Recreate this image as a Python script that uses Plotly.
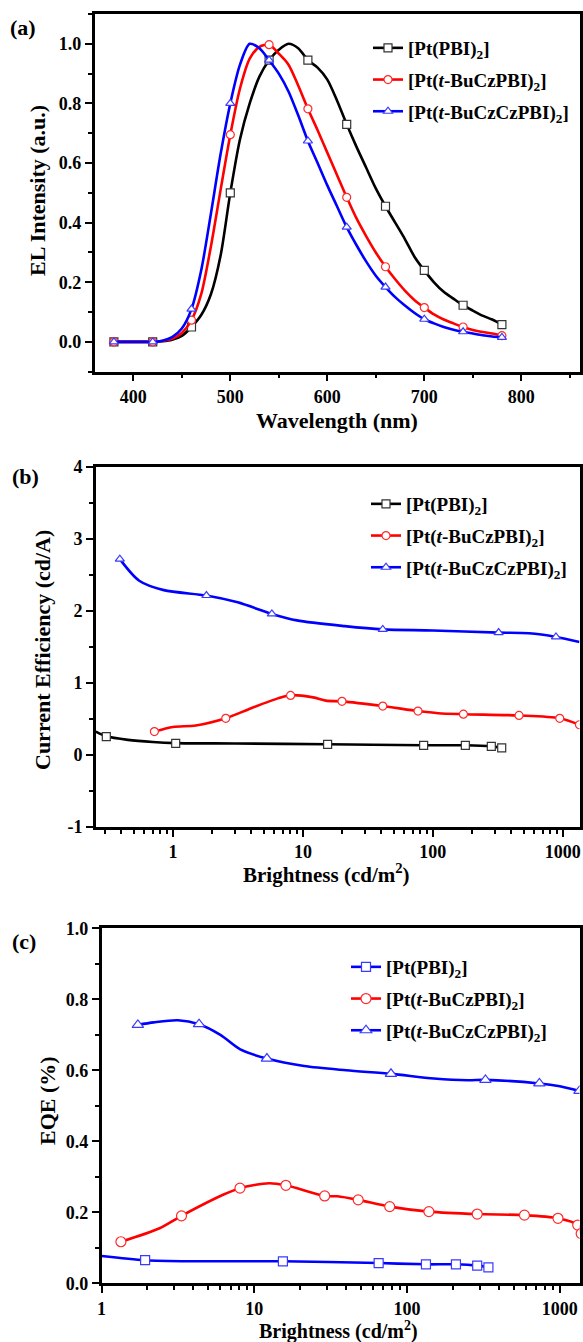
import plotly.graph_objects as go

# ---------------- Panel (a): EL spectra ----------------
wl_line = [380, 390, 400, 410, 420, 430, 440, 450, 460, 470, 480, 490, 500, 510, 520, 530, 540,
           550, 560, 570, 580, 590, 600, 610, 620, 630, 640, 650, 660, 670, 680, 690, 700, 710,
           720, 730, 740, 750, 760, 770, 780]
el_pbi = [0, 0, 0, 0, 0, 0.002, 0.007, 0.02, 0.05, 0.09, 0.16, 0.29, 0.50, 0.68, 0.80, 0.89, 0.945,
          0.98, 1.0, 0.985, 0.945, 0.92, 0.88, 0.81, 0.73, 0.655, 0.585, 0.515, 0.455, 0.40, 0.345,
          0.285, 0.24, 0.20, 0.168, 0.145, 0.123, 0.105, 0.088, 0.075, 0.058]
el_bucz = [0, 0, 0, 0, 0, 0.003, 0.01, 0.03, 0.073, 0.16, 0.32, 0.51, 0.695, 0.85, 0.95, 0.99, 0.997,
           0.967, 0.93, 0.86, 0.782, 0.71, 0.635, 0.56, 0.485, 0.415, 0.355, 0.30, 0.252, 0.21, 0.172,
           0.14, 0.115, 0.092, 0.075, 0.062, 0.05, 0.04, 0.033, 0.028, 0.021]
el_buczcz = [0, 0, 0, 0, 0, 0.004, 0.016, 0.045, 0.11, 0.24, 0.43, 0.63, 0.80, 0.93, 1.0, 0.985, 0.945,
             0.90, 0.84, 0.76, 0.674, 0.60, 0.525, 0.455, 0.385, 0.325, 0.27, 0.222, 0.184, 0.15, 0.122,
             0.097, 0.076, 0.062, 0.05, 0.041, 0.034, 0.028, 0.022, 0.018, 0.015]
wl_mark = [380, 420, 460, 500, 540, 580, 620, 660, 700, 740, 780]
el_pbi_mark = [0, 0, 0.05, 0.50, 0.945, 0.945, 0.73, 0.455, 0.24, 0.123, 0.058]
el_bucz_mark = [0, 0, 0.073, 0.695, 0.997, 0.782, 0.485, 0.252, 0.115, 0.05, 0.021]
el_buczcz_mark = [0, 0, 0.11, 0.80, 0.945, 0.674, 0.385, 0.184, 0.076, 0.034, 0.015]

# ---------------- Panel (b): current efficiency ----------------
ce_pbi_b = [0.255, 0.307, 0.45, 0.7, 1.05, 3, 15.5, 85, 178, 282, 339]
ce_pbi = [0.325, 0.26, 0.21, 0.18, 0.165, 0.16, 0.15, 0.135, 0.135, 0.12, 0.10]
ce_pbi_mb = [0.307, 1.05, 15.5, 85, 178, 282, 339]
ce_pbi_m = [0.255, 0.162, 0.148, 0.134, 0.134, 0.12, 0.10]

ce_bucz_b = [0.72, 1.0, 1.5, 2.55, 4.0, 6.5, 8.04, 12, 15, 20, 41.2, 76.9, 110, 172, 461, 948, 1345]
ce_bucz = [0.325, 0.39, 0.41, 0.51, 0.65, 0.79, 0.83, 0.80, 0.755, 0.745, 0.68, 0.61, 0.58, 0.567,
           0.549, 0.51, 0.42]
ce_bucz_mb = [0.72, 2.55, 8.04, 20, 41.2, 76.9, 172, 461, 948, 1345]
ce_bucz_m = [0.325, 0.51, 0.828, 0.745, 0.68, 0.61, 0.567, 0.549, 0.51, 0.42]

ce_buczcz_b = [0.39, 0.55, 0.85, 1.81, 3.15, 5.77, 9, 21, 41.2, 100, 321, 550, 887, 1345]
ce_buczcz = [2.72, 2.42, 2.29, 2.215, 2.12, 1.96, 1.87, 1.79, 1.745, 1.73, 1.70, 1.69, 1.64, 1.57]
ce_buczcz_mb = [0.39, 1.81, 5.77, 41.2, 321, 887]
ce_buczcz_m = [2.72, 2.215, 1.96, 1.745, 1.70, 1.64]

# ---------------- Panel (c): EQE ----------------
eqe_pbi_b = [1.0, 1.93, 4, 15.4, 65.2, 133, 209, 288, 341]
eqe_pbi = [0.077, 0.065, 0.062, 0.062, 0.057, 0.0535, 0.0535, 0.0497, 0.045]
eqe_pbi_mb = [1.93, 15.4, 65.2, 133, 209, 288, 341]
eqe_pbi_m = [0.065, 0.062, 0.057, 0.0535, 0.0535, 0.0497, 0.045]

eqe_bucz_b = [1.34, 2.4, 3.34, 6.3, 8.06, 12.5, 16.1, 28.9, 35, 47.9, 77, 139, 288, 587, 973, 1310, 1380]
eqe_bucz = [0.117, 0.155, 0.19, 0.25, 0.268, 0.282, 0.276, 0.246, 0.245, 0.235, 0.216, 0.202, 0.195,
            0.192, 0.183, 0.164, 0.14]
eqe_bucz_mb = [1.34, 3.34, 8.06, 16.1, 28.9, 47.9, 77, 139, 288, 587, 973, 1310, 1380]
eqe_bucz_m = [0.117, 0.19, 0.268, 0.276, 0.246, 0.235, 0.216, 0.202, 0.195, 0.192, 0.183, 0.164, 0.14]

eqe_buczcz_b = [1.73, 2.2, 3.16, 4.35, 6.0, 8.1, 12.1, 21.2, 40, 78.5, 150, 250, 326, 735, 1000, 1345]
eqe_buczcz = [0.728, 0.735, 0.741, 0.73, 0.70, 0.659, 0.633, 0.612, 0.60, 0.59, 0.577, 0.572, 0.573,
              0.563, 0.555, 0.542]
eqe_buczcz_mb = [1.73, 4.35, 12.1, 78.5, 326, 735, 1345]
eqe_buczcz_m = [0.728, 0.73, 0.633, 0.59, 0.573, 0.563, 0.542]

names = ["[Pt(PBI)<sub>2</sub>]", "[Pt(<i>t</i>-BuCzPBI)<sub>2</sub>]", "[Pt(<i>t</i>-BuCzCzPBI)<sub>2</sub>]"]
log_tickvals = [1, 10, 100, 1000]
log_ticktext = ["1", "10", "100", "1000"]
ce_tickvals = [-1, 0, 1, 2, 3, 4]
ce_ticktext = ["-1", "0", "1", "2", "3", "4"]

FONT = "Liberation Serif"
BLACK, RED, BLUE = "#000000", "#ff0000", "#0000ff"
EDGE = {BLACK: "#333333", RED: "#ff2a2a", BLUE: "#3a3aff"}
SYMS = ["square", "circle", "triangle-up"]

fig = go.Figure()


def add_series(xl, yl, xm, ym, color, sym, name, xa, ya, leg, group, msize=8):
    mk = dict(symbol=sym, size=msize, color="white", line=dict(color=EDGE[color], width=1.2))
    fig.add_trace(go.Scatter(x=xl, y=yl, mode="lines",
                             line=dict(color=color, width=2.6, shape="spline", smoothing=0.8),
                             xaxis=xa, yaxis=ya, showlegend=False, hoverinfo="skip"))
    fig.add_trace(go.Scatter(x=xm, y=ym, mode="markers", marker=mk,
                             xaxis=xa, yaxis=ya, showlegend=False))
    fig.add_trace(go.Scatter(x=[None], y=[None], mode="lines+markers", name=name,
                             line=dict(color=color, width=2.6), marker=mk,
                             xaxis=xa, yaxis=ya, legend=leg, legendgroup=group, showlegend=True))


# panel a
add_series(wl_line, el_pbi, wl_mark, el_pbi_mark, BLACK, SYMS[0], names[0], "x", "y", "legend", "a1")
add_series(wl_line, el_bucz, wl_mark, el_bucz_mark, RED, SYMS[1], names[1], "x", "y", "legend", "a2")
add_series(wl_line, el_buczcz, wl_mark, el_buczcz_mark, BLUE, SYMS[2], names[2], "x", "y", "legend", "a3")
# panel b
add_series(ce_pbi_b, ce_pbi, ce_pbi_mb, ce_pbi_m, BLACK, SYMS[0], names[0], "x2", "y2", "legend2", "b1")
add_series(ce_bucz_b, ce_bucz, ce_bucz_mb, ce_bucz_m, RED, SYMS[1], names[1], "x2", "y2", "legend2", "b2")
add_series(ce_buczcz_b, ce_buczcz, ce_buczcz_mb, ce_buczcz_m, BLUE, SYMS[2], names[2], "x2", "y2", "legend2", "b3")
# panel c
add_series(eqe_pbi_b, eqe_pbi, eqe_pbi_mb, eqe_pbi_m, BLUE, SYMS[0], names[0], "x3", "y3", "legend3", "c1", 9)
add_series(eqe_bucz_b, eqe_bucz, eqe_bucz_mb, eqe_bucz_m, RED, SYMS[1], names[1], "x3", "y3", "legend3", "c2", 10)
add_series(eqe_buczcz_b, eqe_buczcz, eqe_buczcz_mb, eqe_buczcz_m, BLUE, SYMS[2], names[2], "x3", "y3", "legend3", "c3", 10)

W, H = 583, 1342


def px_x(p):
    return p / W


def px_y(p):
    return 1 - p / H


tickfont = dict(family=FONT, size=18, color="black", weight="bold")
base = dict(showline=True, linecolor="black", linewidth=2.5, mirror=True, ticks="outside", ticklen=7,
            tickwidth=2, tickcolor="black", showgrid=False, zeroline=False, tickfont=tickfont,
            automargin=False,
            minor=dict(ticks="outside", ticklen=4, tickwidth=2, tickcolor="black", showgrid=False))

minor_log = [m * 10 ** e for e in range(-1, 4) for m in range(2, 10)]

fig.update_layout(
    width=W, height=H, margin=dict(l=0, r=0, t=0, b=0, pad=0), plot_bgcolor="white", paper_bgcolor="white",
    xaxis=dict(base, domain=[px_x(94.5), px_x(579.5)], anchor="y", range=[360, 860], dtick=100, tick0=0,
               minor=dict(base["minor"], dtick=50)),
    yaxis=dict(base, domain=[px_y(371.7), px_y(14)], anchor="x", range=[-0.1, 1.1], dtick=0.2, tick0=0,
               tickformat=".1f", minor=dict(base["minor"], dtick=0.1)),
    xaxis2=dict(base, domain=[px_x(95.9), px_x(579.5)], anchor="y2", type="log", range=[-0.593, 3.129],
                tickmode="array", tickvals=log_tickvals, ticktext=log_ticktext,
                minor=dict(base["minor"], tickmode="array", tickvals=minor_log)),
    yaxis2=dict(base, domain=[px_y(827), px_y(467)], anchor="x2", range=[-1, 4], tickmode="array",
                tickvals=ce_tickvals, ticktext=ce_ticktext, minor=dict(base["minor"], dtick=0.5, tick0=0)),
    xaxis3=dict(base, domain=[px_x(101.5), px_x(579.5)], anchor="y3", type="log", range=[0, 3.129],
                tickmode="array", tickvals=log_tickvals, ticktext=log_ticktext,
                minor=dict(base["minor"], tickmode="array", tickvals=minor_log)),
    yaxis3=dict(base, domain=[px_y(1283.3), px_y(928.3)], anchor="x3", range=[0, 1.0], dtick=0.2, tick0=0,
                tickformat=".1f", minor=dict(base["minor"], dtick=0.1)),
)

legfont = dict(family=FONT, size=19, color="black", weight="bold")
legbase = dict(font=legfont, bgcolor="rgba(0,0,0,0)", traceorder="grouped", tracegroupgap=4,
               xanchor="left", yanchor="top", itemwidth=30)
fig.update_layout(
    legend=dict(legbase, x=px_x(368), y=px_y(29)),
    legend2=dict(legbase, x=px_x(366), y=px_y(485)),
    legend3=dict(legbase, x=px_x(346), y=px_y(948)),
)

ann = [
    ("(a)", 23, 27, 0, 22), ("(b)", 25, 476, 0, 22), ("(c)", 24, 942, 0, 22),
    ("EL Intensity (a.u.)", 38, 191, -90, 22),
    ("Wavelength (nm)", 337, 420, 0, 22),
    ("Current Efficiency (cd/A)", 42, 650, -90, 22),
    ("Brightness (cd/m<sup>2</sup>)", 326, 873, 0, 21),
    ("EQE (%)", 47, 1101, -90, 22),
    ("Brightness (cd/m<sup>2</sup>)", 338, 1330, 0, 20),
]
for text, x, y, rot, size in ann:
    fig.add_annotation(text=text, x=px_x(x), y=px_y(y), xref="paper", yref="paper", showarrow=False,
                       textangle=rot, xanchor="center", yanchor="middle",
                       font=dict(family=FONT, size=size, color="black", weight="bold"))

fig.write_html("out.html", config={"displayModeBar": False},
               post_script="document.body.style.margin='0';document.body.style.overflow='hidden';")
